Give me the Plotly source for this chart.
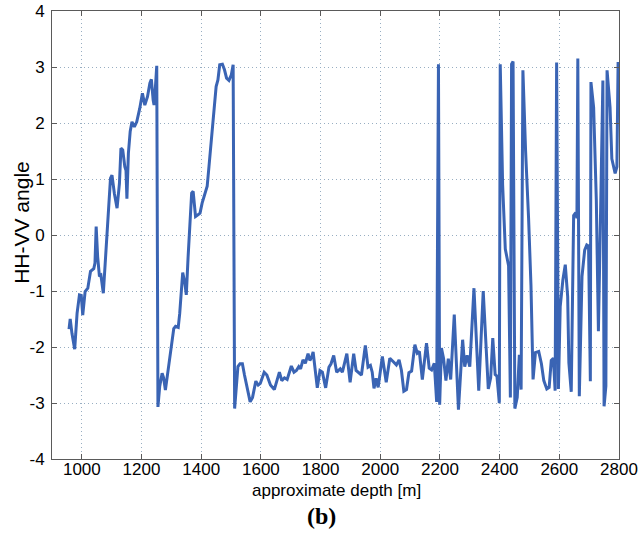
import plotly.graph_objects as go

depth_m = [
    957, 961, 967, 976, 984, 992, 998, 1003, 1011, 1020, 1029, 1040, 1044, 1048, 1053, 1059, 1064, 1072,
    1081, 1089, 1096, 1101, 1109, 1118, 1126, 1131, 1137, 1144, 1148, 1151, 1156, 1162, 1168, 1176, 1184,
    1194, 1203, 1211, 1220, 1228, 1233, 1239, 1242, 1246, 1251,
    1255, 1261, 1269, 1274, 1280, 1289, 1297, 1308, 1314, 1323, 1328, 1334, 1338, 1345, 1350, 1356, 1362,
    1368, 1373, 1381, 1389, 1396, 1403, 1411, 1420, 1426, 1431, 1437, 1443, 1450, 1456, 1462, 1471, 1478,
    1485, 1493, 1501, 1507,
    1512, 1518, 1523, 1530, 1538, 1545, 1553, 1564, 1572, 1583, 1591, 1598, 1611, 1620, 1632, 1645, 1662,
    1670, 1679, 1688, 1702, 1711, 1719, 1727, 1733, 1741, 1749, 1758, 1764, 1770, 1775, 1781, 1789, 1798,
    1806, 1817, 1828, 1835, 1844, 1854, 1866, 1873, 1888, 1899, 1911, 1919, 1928, 1937, 1950, 1959, 1967,
    1973, 1979, 1986, 1993, 2007, 2020, 2032, 2043, 2054, 2063, 2071, 2079, 2088, 2096, 2105, 2116, 2124,
    2131, 2141, 2155, 2164, 2172, 2181, 2189, 2195, 2199, 2205, 2212, 2220, 2228, 2236, 2248, 2262, 2276,
    2283, 2291, 2300, 2314, 2330, 2345, 2352, 2362, 2370, 2377, 2385, 2391, 2399,
    2402, 2410, 2419, 2430, 2436, 2440, 2445, 2451, 2459, 2466, 2472, 2478, 2487, 2497, 2505, 2512, 2520,
    2531, 2540, 2548, 2558, 2566, 2573, 2580, 2586, 2591, 2597, 2603, 2612, 2620, 2628, 2632, 2640, 2648,
    2655, 2659, 2662, 2667, 2676, 2685, 2692, 2698, 2704, 2706, 2715, 2724, 2731, 2739, 2746, 2750, 2756,
    2760, 2765, 2770, 2776, 2787, 2793, 2797,
]

hh_vv_angle = [
    -1.68, -1.50, -1.76, -2.04, -1.40, -1.07, -1.08, -1.43, -1.01, -0.95, -0.65, -0.60, -0.50, 0.15, -0.39,
    -0.74, -0.72, -1.04, -0.27, 0.45, 1.01, 1.07, 0.74, 0.48, 0.92, 1.55, 1.52, 1.22, 1.15, 0.65, 1.46,
    1.85, 2.02, 1.93, 2.02, 2.26, 2.53, 2.32, 2.47, 2.71, 2.78, 2.41, 2.32, 2.59, 3.02,
    -3.07, -2.70, -2.47, -2.55, -2.77, -2.40, -2.17, -1.67, -1.63, -1.65, -1.40, -0.98, -0.67, -0.85, -1.07,
    -0.40, 0.21, 0.75, 0.78, 0.33, 0.36, 0.39, 0.57, 0.72, 0.87, 1.22, 1.52, 1.82, 2.17, 2.65, 2.77, 3.04,
    3.05, 2.95, 2.80, 2.76, 2.86, 3.04,
    -3.10, -2.65, -2.35, -2.30, -2.30, -2.50, -2.71, -2.98, -2.90, -2.61, -2.68, -2.65, -2.45, -2.50, -2.68,
    -2.76, -2.45, -2.60, -2.55, -2.58, -2.34, -2.45, -2.42, -2.35, -2.39, -2.23, -2.29, -2.12, -2.24, -2.18,
    -2.09, -2.36, -2.73, -2.42, -2.45, -2.73, -2.36, -2.30, -2.15, -2.45, -2.39, -2.45, -2.12, -2.63, -2.12,
    -2.42, -2.46, -2.50, -1.97, -2.36, -2.33, -2.45, -2.74, -2.56, -2.72, -2.17, -2.63, -2.20, -2.26, -2.32,
    -2.23, -2.42, -2.79, -2.76, -2.46, -2.43, -1.96, -2.11, -2.08, -2.58, -1.93, -2.38, -2.41, -2.29, -2.98,
    3.05, -3.03, -2.02, -2.20, -2.60, -2.21, -2.58, -1.42, -3.12, -1.87, -2.35, -2.15, -2.35, -0.95, -2.78,
    -1.00, -1.80, -2.75, -2.55, -1.84, -2.49, -2.52, -3.00,
    3.05, 0.90, -0.25, -0.55, -2.90, 3.05, 3.10, -3.10, -2.90, -2.14, -2.76, 2.94, 1.50, 0.30, -0.90, -2.58,
    -2.10, -2.08, -2.30, -2.60, -2.75, -2.72, -2.24, -2.20, -2.78, 3.08, -2.75, -1.28, -0.80, -0.53, -1.10,
    -2.28, -2.80, 0.35, 0.40, 0.30, 3.15, -2.88, -0.74, -0.27, -0.18, -0.20, -2.61, 2.73, 2.28, 0.62, -1.72,
    0.62, 2.76, -3.06, -2.70, 2.94, 2.64, 2.28, 1.36, 1.10, 1.22, 3.09,
]

x_tick_values = [1000, 1200, 1400, 1600, 1800, 2000, 2200, 2400, 2600, 2800]
x_tick_labels = ["1000", "1200", "1400", "1600", "1800", "2000", "2200", "2400", "2600", "2800"]
y_tick_values = [-4, -3, -2, -1, 0, 1, 2, 3, 4]
y_tick_labels = ["-4", "-3", "-2", "-1", "0", "1", "2", "3", "4"]

x_title = "approximate depth [m]"
y_title = "HH-VV angle"
panel_label = "(b)"

fig = go.Figure(
    go.Scatter(
        x=depth_m, y=hh_vv_angle, mode="lines",
        line=dict(color="#3A64B4", width=3),
        hoverinfo="skip",
    )
)

axis_common = dict(
    showgrid=True, gridcolor="#98aec2", griddash="1px,3px", gridwidth=1,
    showline=True, linecolor="#5a5a5a", linewidth=1, mirror="ticks",
    ticks="inside", ticklen=5, tickcolor="#5a5a5a", zeroline=False,
    automargin=False,
    tickfont=dict(family="Liberation Sans, Arial, sans-serif", size=17, color="black"),
)

fig.update_xaxes(range=[900, 2800], tickvals=x_tick_values, ticktext=x_tick_labels,
                 ticklabelstandoff=-5, **axis_common)
fig.update_yaxes(range=[-4, 4], tickvals=y_tick_values, ticktext=y_tick_labels,
                 ticklabelstandoff=3, **axis_common)

fig.update_layout(
    width=640, height=541,
    margin=dict(l=52, r=21, t=11, b=82),
    paper_bgcolor="white", plot_bgcolor="white",
    showlegend=False,
    font=dict(family="Liberation Sans, Arial, sans-serif", size=17, color="black"),
    annotations=[
        dict(text=y_title, xref="paper", yref="paper", x=-0.055, y=0.529,
             textangle=-90, showarrow=False, xanchor="center", yanchor="middle",
             font=dict(size=21)),
        dict(text=x_title, xref="paper", yref="paper", x=0.501, y=-0.071,
             showarrow=False, xanchor="center", yanchor="middle",
             font=dict(size=17)),
        dict(text="<b>" + panel_label + "</b>", xref="paper", yref="paper", x=0.476, y=-0.127,
             showarrow=False, xanchor="center", yanchor="middle",
             font=dict(family="Liberation Serif, Times New Roman, serif", size=24)),
    ],
)

fig.write_html("out.html", config={"displayModeBar": False},
               post_script="document.body.style.margin='0';")
